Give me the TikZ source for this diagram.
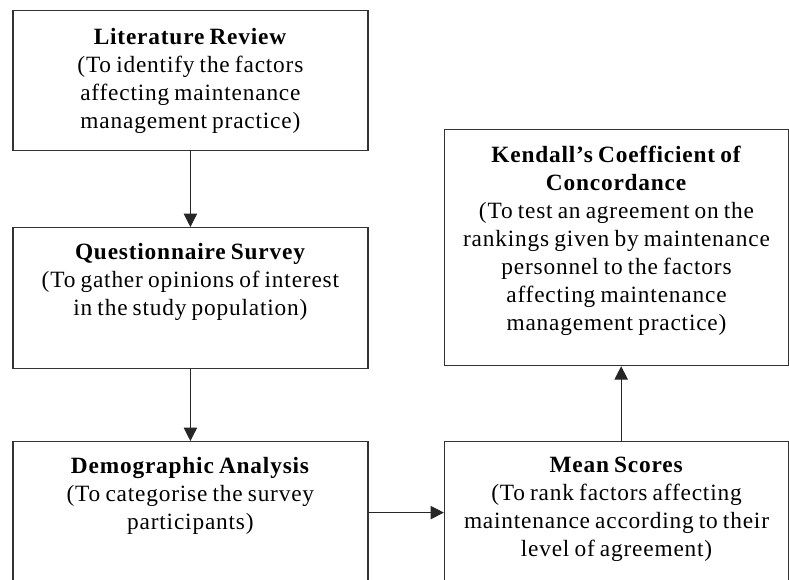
\documentclass[tikz,border=0pt]{standalone}
\usepackage{fontspec}
\setmainfont{Liberation Serif}[LetterSpace=3.5]
\usetikzlibrary{arrows.meta}

\newcommand{\stagetext}[1]{\parbox[t]{250pt}{\spaceskip=0.22em plus 0.1em\relax\centering #1}}

\tikzset{
  stage/.style={draw=black!80, line width=0.9pt, anchor=north,
    inner xsep=0pt, inner ysep=0pt,
    font=\fontsize{17.5}{21}\selectfont},
  wide/.style={minimum width=266.25pt},
  narrow/.style={minimum width=258pt},
  flow/.style={->, line width=0.8pt, black!85}
}

\begin{document}
\begin{tikzpicture}[x=0.75pt, y=-0.75pt, >={Triangle[length=10pt,width=10pt]}]
        \useasboundingbox (0,0) rectangle (789,579);
        % left column
        \node[stage, wide, text height=25.5pt, text depth=79.5pt] (lit) at (190.4,10)
          {\stagetext{\textbf{Literature Review}\\(To identify the factors\\affecting maintenance\\management practice)}};
        \node[stage, wide, text height=24pt, text depth=81.75pt] (quest) at (190.4,227)
          {\stagetext{\textbf{Questionnaire Survey}\\(To gather opinions of interest\\in the study population)}};
        \node[stage, wide, text height=24pt, text depth=82.5pt] (demo) at (190.4,441)
          {\stagetext{\textbf{Demographic Analysis}\\(To categorise the survey\\participants)}};
        % right column
        \node[stage, narrow, text height=23.25pt, text depth=83.25pt] (mean) at (616.5,441)
          {\stagetext{\textbf{Mean Scores}\\(To rank factors affecting\\maintenance according to their\\level of agreement)}};
        \node[stage, narrow, text height=24.75pt, text depth=152.25pt] (kendall) at (616.5,129)
          {\stagetext{\textbf{Kendall’s Coefficient of}\\\textbf{Concordance}\\(To test an agreement on the\\rankings given by maintenance\\personnel to the factors\\affecting maintenance\\management practice)}};
        \draw[flow] (lit) -- (quest);
        \draw[flow] (quest) -- (demo);
        \draw[flow] (demo) -- (mean);
        \draw[flow] ([xshift=3.5pt]mean.north) -- ([xshift=3.5pt]kendall.south);
    \end{tikzpicture}
\end{document}
